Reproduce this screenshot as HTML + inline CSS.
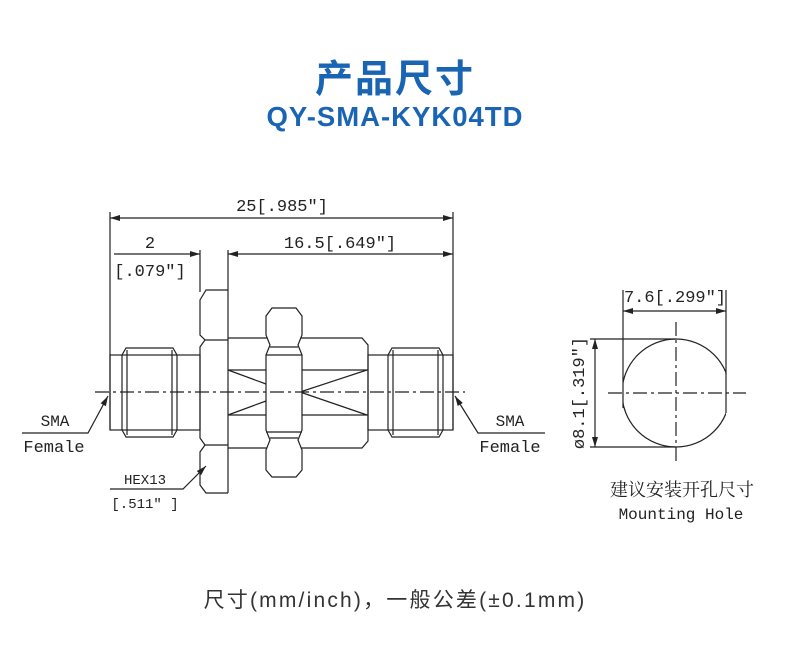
<!DOCTYPE html>
<html><head><meta charset="utf-8"><style>
html,body{margin:0;padding:0;background:#fff;width:790px;height:662px;overflow:hidden}
.t{position:absolute;left:0;width:790px;text-align:center;font-family:"Liberation Sans","Noto Sans CJK SC",sans-serif;color:#1a64b4;font-weight:bold}
</style></head><body>
<div class="t" style="top:48px;font-size:38px;letter-spacing:2px">产品尺寸</div>
<div class="t" style="top:101px;font-size:27.5px;letter-spacing:1px">QY-SMA-KYK04TD</div>
<div class="t" style="top:584px;font-size:21px;font-weight:normal;color:#333;letter-spacing:2.2px">尺寸(mm/inch)，一般公差(±0.1mm)</div>
<svg width="790" height="662" style="position:absolute;left:0;top:0" xmlns="http://www.w3.org/2000/svg">
<defs><marker id="a" viewBox="0 0 10 6" refX="10" refY="3" markerWidth="10" markerHeight="6" orient="auto-start-reverse" markerUnits="userSpaceOnUse"><path d="M0,0L10,3L0,6z" fill="#222"/></marker>
<clipPath id="c"><rect x="623" y="300" width="103" height="200"/></clipPath></defs>
<g stroke="#222" stroke-width="1.2" fill="none">
<line x1="110" y1="212" x2="110" y2="430"/><line x1="453" y1="212" x2="453" y2="430"/>
<line x1="110" y1="218" x2="453" y2="218" marker-start="url(#a)" marker-end="url(#a)"/>
<line x1="200" y1="250" x2="200" y2="292"/><line x1="228" y1="250" x2="228" y2="493"/>
<line x1="114" y1="254" x2="200" y2="254" marker-end="url(#a)"/>
<line x1="228" y1="254" x2="453" y2="254" marker-start="url(#a)" marker-end="url(#a)"/>
<rect x="110" y="355" width="90" height="75"/>
<path d="M122,355 L126,348 L173,348 L177,355 M122,430 L126,437 L173,437 L177,430 M122,355 V430 M177,355 V430 M127,350 V435 M172,350 V435"/>
<path d="M228,290 H206 L200,300 V335 L205,340 L200,347 V438 L205,445 L200,452 V485 L206,493 H228"/>
<line x1="205" y1="340" x2="228" y2="340"/><line x1="205" y1="445" x2="228" y2="445"/>
<path d="M228,338 H362 L368,345 V441 L362,448 H228"/>
<line x1="228" y1="370" x2="368" y2="370"/><line x1="228" y1="415" x2="368" y2="415"/>
<path d="M228,370 L266,384 M228,415 L266,401 M300,392 L367,370 M300,392 L367,415"/>
<path d="M272,308 H296 L302,316 V335 L298,345 L302,355 V430 L298,440 L302,450 V470 L296,477 H272 L266,470 V450 L270,440 L266,430 V355 L270,345 L266,335 V316 Z" fill="#fff"/>
<line x1="270" y1="347" x2="298" y2="347"/><line x1="266" y1="355" x2="302" y2="355"/>
<line x1="266" y1="432" x2="302" y2="432"/><line x1="270" y1="438" x2="298" y2="438"/>
<rect x="368" y="355" width="85" height="75"/>
<path d="M388,355 L392,348 L439,348 L443,355 M388,430 L392,437 L439,437 L443,430 M388,355 V430 M443,355 V430 M393,350 V435 M438,350 V435"/>
<line x1="95" y1="392" x2="465" y2="392" stroke-dasharray="14,4,3,4"/>
<path d="M22,433 H88 L108,396" marker-end="url(#a)"/>
<path d="M545,433 H478 L455,396" marker-end="url(#a)"/>
<path d="M110,489 H183 L206,466" marker-end="url(#a)"/>
<circle cx="676" cy="393" r="54" clip-path="url(#c)"/>
<line x1="726" y1="373" x2="726" y2="413"/>
<line x1="623" y1="290" x2="623" y2="408"/><line x1="726" y1="290" x2="726" y2="374"/>
<line x1="623" y1="311" x2="726" y2="311" marker-start="url(#a)" marker-end="url(#a)"/>
<line x1="590" y1="339" x2="676" y2="339"/><line x1="590" y1="447" x2="676" y2="447"/>
<line x1="595" y1="339" x2="595" y2="447" marker-start="url(#a)" marker-end="url(#a)"/>
<line x1="608" y1="393" x2="746" y2="393" stroke-dasharray="14,4,3,4"/>
<line x1="676" y1="322" x2="676" y2="463" stroke-dasharray="14,4,3,4"/>
</g>
<g font-family="'Liberation Mono','Noto Serif CJK SC',monospace" fill="#222" font-size="17">
<text x="282" y="211" text-anchor="middle">25[.985″]</text>
<text x="150" y="248" text-anchor="middle">2</text>
<text x="150" y="276" text-anchor="middle">[.079″]</text>
<text x="340" y="248" text-anchor="middle">16.5[.649″]</text>
<text x="55" y="426" text-anchor="middle" font-size="16">SMA</text>
<text x="54" y="452" text-anchor="middle" font-size="17">Female</text>
<text x="510" y="426" text-anchor="middle" font-size="16">SMA</text>
<text x="510" y="452" text-anchor="middle" font-size="17">Female</text>
<text x="145" y="484" text-anchor="middle" font-size="14">HEX13</text>
<text x="145" y="508" text-anchor="middle" font-size="14">[.511″ ]</text>
<text x="675" y="302" text-anchor="middle">7.6[.299″]</text>
<text transform="translate(584,393) rotate(-90)" text-anchor="middle">ø8.1[.319″]</text>
<text x="682" y="496" text-anchor="middle" font-size="18" font-family="'Noto Serif CJK SC',serif">建议安装开孔尺寸</text>
<text x="681" y="519" text-anchor="middle" font-size="16">Mounting Hole</text>
</g>
</svg>
</body></html>
